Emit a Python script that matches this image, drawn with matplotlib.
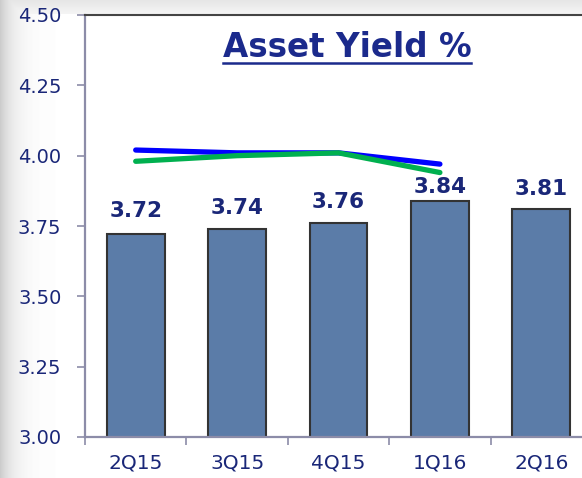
#!/usr/bin/env python3
"""Asset Yield % - quarterly bar chart with two overlay trend lines."""

import numpy as np
import matplotlib
matplotlib.use("Agg")
import matplotlib.pyplot as plt

# ---- data ----
QUARTERS = ["2Q15", "3Q15", "4Q15", "1Q16", "2Q16"]
ASSET_YIELD = [3.72, 3.74, 3.76, 3.84, 3.81]
BLUE_LINE = [4.02, 4.01, 4.01, 3.97]
GREEN_LINE = [3.98, 4.00, 4.01, 3.94]
Y_TICKS = [3.00, 3.25, 3.50, 3.75, 4.00, 4.25, 4.50]

# label gap above each bar (points) - 1Q16 sits tighter under the lines
LABEL_GAP = [10, 8, 8, 2.5, 7]

NAVY = "#1a2778"
BAR_COLOUR = "#5b7ca8"
SPINE_GREY = "#8c8ca8"

fig = plt.figure(figsize=(5.82, 4.78), dpi=100)
fig.patch.set_facecolor("white")

# soft grey gradient on left and top edges of the slide
bg = fig.add_axes([0, 0, 1, 1], zorder=-10)
xx = np.linspace(0, 582, 582)
yy = np.linspace(0, 478, 478)
X, Y = np.meshgrid(xx, yy)
shade = 1 - 0.20 * np.exp(-X / 14.0)
shade = np.where(Y < 14, np.minimum(shade, 0.90 + 0.06 * Y / 14), shade)
bg.imshow(shade, cmap="gray", vmin=0, vmax=1, aspect="auto",
          extent=[0, 1, 0, 1], origin="upper")
bg.set_axis_off()

ax = fig.add_axes([85 / 582, 41 / 478, 507 / 582, 422 / 478])
ax.set_facecolor("white")

x = np.arange(len(QUARTERS))
ax.bar(x, ASSET_YIELD, width=0.57, color=BAR_COLOUR,
       edgecolor="#333333", linewidth=1.5, zorder=2)
for xi, v, gap in zip(x, ASSET_YIELD, LABEL_GAP):
    ax.annotate(f"{v:.2f}", (xi, v), xytext=(0, gap), textcoords="offset points",
                ha="center", va="bottom", fontsize=15.5, fontweight="bold",
                color=NAVY)

lx = np.arange(len(BLUE_LINE))
ax.plot(lx, BLUE_LINE, color="#0000ff", lw=3.8, solid_capstyle="round", zorder=3)
ax.plot(lx, GREEN_LINE, color="#00b04f", lw=3.8, solid_capstyle="round", zorder=4)

ax.set_xlim(-0.5, len(QUARTERS) - 0.5)
ax.set_ylim(3.0, 4.5)
ax.set_yticks(Y_TICKS)
ax.set_yticklabels([f"{t:.2f}" for t in Y_TICKS])
ax.set_xticks(x)
ax.set_xticklabels(QUARTERS)
ax.set_xticks(np.arange(len(QUARTERS) + 1) - 0.5, minor=True)

ax.tick_params(axis="y", direction="out", length=6, width=1.2, color=SPINE_GREY,
               labelsize=14, labelcolor=NAVY, pad=11)
ax.tick_params(axis="x", which="major", length=0, labelsize=14.5,
               labelcolor=NAVY, pad=12)
ax.tick_params(axis="x", which="minor", direction="out", length=6, width=1.2,
               color=SPINE_GREY)

for side in ("left", "bottom"):
    ax.spines[side].set_color(SPINE_GREY)
    ax.spines[side].set_linewidth(1.6)
ax.spines["top"].set_color("#444444")
ax.spines["top"].set_linewidth(1.5)
ax.spines["right"].set_visible(False)

# title with underline
title = fig.text(347 / 582, 1 - 47 / 478, "Asset Yield %", ha="center",
                 va="center", fontsize=23.5, fontweight="bold", color="#1b2a8c")
fig.canvas.draw()
bb = title.get_window_extent(fig.canvas.get_renderer()).transformed(
    fig.transFigure.inverted())
fig.add_artist(plt.Line2D([bb.x0, bb.x1], [bb.y0 + 0.002, bb.y0 + 0.002],
                          transform=fig.transFigure, color="#1b2a8c", lw=1.8))

plt.savefig("out.png", dpi=100)
plt.close()
